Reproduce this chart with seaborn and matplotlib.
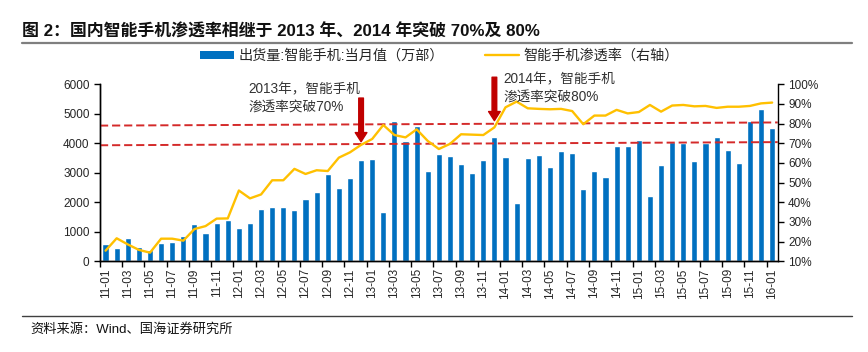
import numpy as np
import pandas as pd
import matplotlib
matplotlib.use("Agg")
import matplotlib.pyplot as plt
import seaborn as sns
from matplotlib.lines import Line2D
from matplotlib.patches import Patch

# 数据：2011-01 ~ 2016-01 月度
months = list(pd.period_range("2011-01", "2016-01", freq="M").strftime("%y-%m"))

shipments = [590, 440, 780, 475, 385, 620, 670, 855, 1280, 965,
             1310, 1405, 1120, 1305, 1775, 1835, 1855, 1750, 2120, 2340,
             2950, 2490, 2810, 3445, 3465, 1680, 4757, 4080, 4570, 3050,
             3650, 3575, 3290, 2995, 3420, 4205, 3548, 1972, 3490, 3605,
             3205, 3730, 3672, 2452, 3050, 2860, 3900, 3900, 4100, 2226,
             3254, 4045, 4000, 3400, 4011, 4200, 3774, 3322, 4746, 5153,
             4520]

penetration = [15.4, 21.7, 18.6, 15.8, 14.4, 21.5, 21.5, 20.5, 26.4, 27.9,
               31.7, 31.8, 46.0, 42.0, 44.0, 51.2, 51.2, 57.0, 54.4, 56.3,
               55.9, 62.7, 65.4, 69.2, 72.2, 79.3, 74.2, 73.0, 77.1, 71.2,
               67.1, 69.7, 74.6, 74.4, 74.2, 78.1, 88.3, 91.2, 87.8, 87.5,
               87.3, 87.5, 86.4, 79.7, 84.1, 84.1, 87.0, 85.2, 85.9, 89.5,
               86.1, 89.2, 89.5, 88.8, 89.0, 88.0, 88.6, 88.6, 89.0, 90.3,
               90.7]

title = "图 2：国内智能手机渗透率相继于 2013 年、2014 年突破 70%及 80%"
bar_label = "出货量:智能手机:当月值（万部）"
line_label = "智能手机渗透率（右轴）"
source = "资料来源：Wind、国海证券研究所"
note_2013 = ["2013年，智能手机", "渗透率突破70%"]
note_2014 = ["2014年，智能手机", "渗透率突破80%"]
arrow_idx = [months.index("12-12"), months.index("13-12")]
thresholds = [70, 80]

sns.set_theme(style="ticks")
plt.rcParams['font.family'] = ['Liberation Sans', 'Noto Sans CJK SC', 'DejaVu Sans']
plt.rcParams['axes.unicode_minus'] = False

BLUE = "#0070C0"
GOLD = "#FFC000"
RED = "#D42A2A"
DARKRED = "#C00000"

W, H = 868, 352
fig = plt.figure(figsize=(W / 100, H / 100), dpi=100)
ax = fig.add_axes([100 / W, 1 - 261.3 / H, 677.7 / W, 177 / H])

sns.barplot(x=months, y=shipments, color=BLUE, saturation=1, width=0.55, ax=ax)
ax.set_xlim(-0.5, len(months) - 0.5)
ax.set_ylim(0, 6000)
ax.set_yticks(range(0, 6001, 1000))
ax.set_xticks(range(0, len(months), 2))
ax.set_xticklabels(months[::2], rotation=90)
ax.set_xticks(np.arange(-0.5, len(months) - 1, 2), minor=True)
ax.tick_params(axis='x', which='major', length=0, pad=5, labelsize=8.5, colors="#262626")
ax.tick_params(axis='x', which='minor', length=4, width=1, color='black', direction='out')
ax.tick_params(axis='y', length=4, width=1, direction='out', labelsize=8.5, colors="#262626")
ax.tick_params(axis='y', color='black')
ax.set_xlabel("")
ax.set_ylabel("")

ax2 = ax.twinx()
sns.lineplot(x=np.arange(len(months)), y=penetration, color=GOLD, lw=1.7, ax=ax2)
ax2.set_ylim(10, 100)
ax2.set_yticks(range(10, 101, 10))
ax2.set_yticklabels([f"{v}%" for v in range(10, 101, 10)])
ax2.tick_params(axis='y', length=4, width=1, direction='out', labelsize=8.5, colors="#262626")
ax2.tick_params(axis='y', color='black')
ax2.set_xlim(-0.5, len(months) - 0.5)

for a in (ax, ax2):
    a.spines['top'].set_visible(False)
    for s in ('left', 'right', 'bottom'):
        a.spines[s].set_color('black')
        a.spines[s].set_linewidth(1)
ax.spines['right'].set_visible(False)

# 70% / 80% 参考虚线
for t in thresholds:
    ax2.plot([-0.5, len(months) - 0.5], [t - 1.0, t + 0.6], color=RED, lw=1.4,
             linestyle=(0, (4.2, 2.0)), zorder=1)

# 箭头
for idx, (top, tip) in zip(arrow_idx, [(93, 70.8), (103.6, 81.5)]):
    ax2.annotate("", xy=(idx, tip), xytext=(idx, top), annotation_clip=False,
                 arrowprops=dict(arrowstyle="simple,head_length=0.55,head_width=0.7,tail_width=0.28",
                                 color=DARKRED, shrinkA=0, shrinkB=0, mutation_scale=12))

# 注释文字
for lines, x0, y0 in [(note_2013, 248, 89), (note_2014, 503, 79)]:
    for k, s in enumerate(lines):
        fig.text(x0 / W, 1 - (y0 + k * 18.5) / H, s, fontsize=9.8, color="#333333", va='center')

# 图例
handles = [Patch(facecolor=BLUE, edgecolor='none'), Line2D([], [], color=GOLD, lw=1.7)]
fig.legend(handles, [bar_label, line_label], loc='center left',
           bbox_to_anchor=(200 / W, 1 - 56 / H), ncol=2, frameon=False, fontsize=10.2,
           handlelength=2.4, handleheight=0.5, handletextpad=0.3, columnspacing=2.9,
           borderpad=0, borderaxespad=0)

# 标题与来源
fig.text(22 / W, 1 - 31 / H, title, fontsize=12.2, fontweight='bold', color="#111111", va='center')
fig.add_artist(Line2D([22 / W, 852 / W], [1 - 42.5 / H] * 2, color="#7F7F7F", lw=1.6))
fig.add_artist(Line2D([22 / W, 852 / W], [1 - 316 / H] * 2, color="#404040", lw=1.0))
fig.text(30 / W, 1 - 329 / H, source, fontsize=9.5, color="#111111", va='center')

fig.savefig("out.png", dpi=100)
